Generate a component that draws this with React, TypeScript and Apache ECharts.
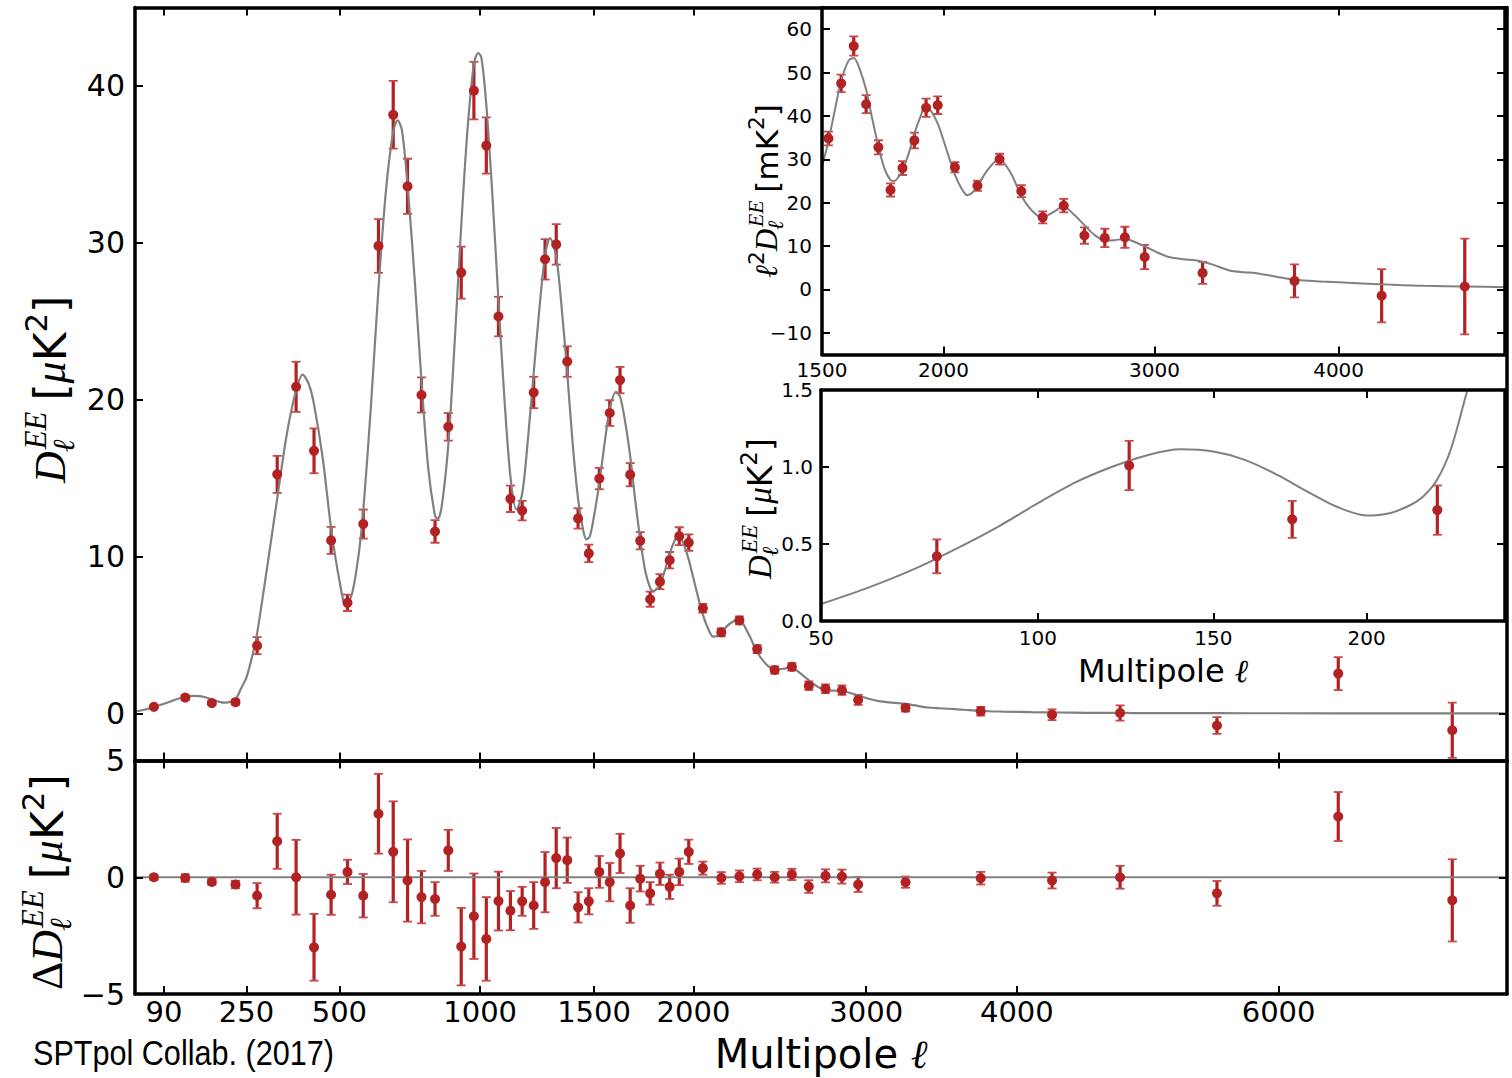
import React, { useEffect, useRef } from 'react';
import * as echarts from 'echarts';

// ---------------- data ----------------
const ell = [75, 125, 175, 225, 275, 325, 375, 425, 475, 525, 575, 625, 675, 725, 775, 825, 875, 925, 975, 1025, 1075, 1125, 1175, 1225, 1275, 1325, 1375, 1425, 1475, 1525, 1575, 1625, 1675, 1725, 1775, 1825, 1875, 1925, 1975, 2050, 2150, 2250, 2350, 2450, 2550, 2650, 2750, 2850, 2950, 3250, 3750, 4250, 4750, 5500, 6500, 7500];
const dEE = [0.42, 1.01, 0.66, 0.72, 4.32, 15.24, 20.82, 16.74, 11.03, 7.05, 12.07, 29.8, 38.16, 33.6, 20.3, 11.6, 18.27, 28.1, 39.7, 36.2, 25.3, 13.68, 12.93, 20.46, 28.95, 29.9, 22.43, 12.43, 10.2, 14.97, 19.15, 21.25, 15.22, 11.01, 7.28, 8.4, 9.77, 11.3, 10.89, 6.7, 5.17, 5.93, 4.1, 2.77, 2.97, 1.77, 1.57, 1.48, 0.86, 0.36, 0.14, -0.08, 0.03, -0.77, 2.54, -1.07];
const dErr = [0.11, 0.16, 0.12, 0.16, 0.54, 1.18, 1.6, 1.43, 0.86, 0.52, 0.93, 1.71, 2.16, 1.76, 1.12, 0.72, 0.88, 1.66, 1.83, 1.79, 1.26, 0.84, 0.62, 1.0, 1.29, 1.29, 0.97, 0.65, 0.56, 0.68, 0.82, 0.84, 0.74, 0.55, 0.48, 0.48, 0.52, 0.57, 0.52, 0.28, 0.25, 0.25, 0.25, 0.23, 0.24, 0.27, 0.28, 0.3, 0.32, 0.24, 0.27, 0.34, 0.49, 0.53, 1.05, 1.76];
const resid = [0.0, -0.03, -0.2, -0.31, -0.79, 1.54, 0.0, -3.0, -0.75, 0.23, -0.79, 2.72, 1.09, -0.14, -0.85, -0.93, 1.15, -2.97, -1.67, -2.64, -1.02, -1.43, -1.03, -1.21, -0.21, 0.82, 0.73, -1.29, -1.03, 0.23, -0.21, 1.02, -1.21, -0.06, -0.69, 0.15, -0.41, 0.23, 1.09, 0.39, -0.03, 0.04, 0.12, 0.0, 0.12, -0.4, 0.06, 0.03, -0.31, -0.21, -0.04, -0.14, 0.0, -0.69, 2.6, -0.99];

const theoryEll = [50, 60, 70, 80, 90, 100, 110, 120, 130, 140, 150, 160, 170, 180, 190, 200, 208, 215, 220, 225, 230, 236, 243, 250, 262, 275, 300, 325, 350, 375, 393, 410, 425, 450, 475, 500, 520, 540, 560, 575, 600, 625, 650, 675, 690, 705, 725, 750, 775, 800, 825, 835, 850, 875, 900, 925, 950, 975, 992, 1005, 1025, 1050, 1075, 1100, 1125, 1150, 1175, 1200, 1225, 1250, 1275, 1297, 1325, 1350, 1375, 1400, 1425, 1450, 1465, 1480, 1500, 1525, 1550, 1575, 1605, 1625, 1650, 1675, 1700, 1725, 1750, 1775, 1790, 1810, 1825, 1850, 1875, 1900, 1920, 1945, 1975, 2000, 2025, 2050, 2075, 2105, 2130, 2160, 2200, 2247, 2300, 2348, 2400, 2447, 2500, 2549, 2600, 2660, 2700, 2750, 2800, 2851, 2900, 2960, 3020, 3080, 3150, 3219, 3300, 3395, 3470, 3537, 3650, 3752, 3900, 4105, 4300, 4500, 4750, 5000, 5500, 6000, 7000, 8000];
const theoryD = [0.11, 0.22, 0.34, 0.475, 0.615, 0.765, 0.9, 1.0, 1.075, 1.115, 1.1, 1.045, 0.95, 0.84, 0.74, 0.685, 0.7, 0.75, 0.81, 0.92, 1.12, 1.5, 1.9, 2.3, 3.5, 5.1, 9.4, 13.7, 17.8, 20.6, 21.6, 21.0, 19.7, 16.3, 11.8, 8.5, 6.85, 7.7, 10.1, 12.9, 19.6, 27.1, 33.3, 37.1, 37.8, 37.2, 33.7, 27.8, 21.2, 15.6, 12.6, 12.4, 13.2, 17.1, 23.8, 31.1, 37.3, 41.4, 42.1, 41.8, 38.8, 33.0, 26.3, 20.0, 15.1, 13.0, 14.0, 17.5, 21.7, 25.8, 29.2, 30.3, 29.1, 25.8, 21.7, 17.2, 13.7, 11.6, 11.1, 11.3, 12.6, 14.7, 17.2, 19.4, 20.5, 20.2, 18.6, 16.4, 13.6, 11.1, 9.1, 8.0, 7.8, 7.95, 8.25, 9.1, 10.2, 11.0, 11.4, 10.9, 9.8, 8.6, 7.4, 6.3, 5.5, 4.9, 4.95, 5.3, 5.75, 5.96, 5.1, 3.95, 3.15, 2.78, 2.85, 2.94, 2.55, 2.03, 1.72, 1.49, 1.45, 1.43, 1.3, 1.11, 0.92, 0.78, 0.7, 0.645, 0.53, 0.38, 0.33, 0.3, 0.22, 0.157, 0.12, 0.086, 0.06, 0.041, 0.03, 0.021, 0.015, 0.011, 0.007, 0.005];

const mainTickEll = [90, 250, 500, 1000, 1500, 2000, 3000, 4000, 6000];
const mainYTicks = [0, 10, 20, 30, 40];
const residYTicks = [-5, 0, 5];
const inset1TickEll = [1500, 2000, 3000, 4000];
const inset1YTicks = [-10, 0, 10, 20, 30, 40, 50, 60];
const inset2TickEll = [50, 100, 150, 200];
const inset2YTicks = [0, 0.5, 1.0, 1.5];

// ---------------- scale & styles ----------------
const P = 0.6;
const tf = (l: number) => Math.pow(l, P);

const RED = '#b22222';
const CAP = '#c9464a';
const GRAY = '#808080';
const SANS = "'DejaVu Sans', Verdana, sans-serif";
const SERIF = "'Liberation Serif', 'DejaVu Serif', serif";

const minusFmt = (v: number) => (v < 0 ? '\u2212' + Math.abs(v) : String(v));
const ellFmt = (ticks: number[]) => (v: number) => {
  const t = ticks.find((x) => Math.abs(tf(x) - v) < 1e-3);
  return t === undefined ? '' : String(t);
};

function makeAxis(
  gridIndex: number, min: number, max: number, ticks: number[], fmt: (v: number) => string,
  position: string, showLabels: boolean, z: number, fontSize: number, margin: number, extra: any = {}
) {
  return {
    type: 'value', gridIndex, min, max, position, z,
    splitLine: { show: false },
    axisLine: { show: true, onZero: false, lineStyle: { color: '#000', width: 3.5 } },
    axisTick: { show: true, inside: true, length: 8, customValues: ticks, lineStyle: { color: '#000', width: 2 } },
    axisLabel: {
      show: showLabels, customValues: ticks, formatter: fmt, fontSize, fontFamily: SANS, color: '#000', margin,
      lineHeight: Math.round(fontSize * 0.9),
    },
    ...extra,
  };
}

function errSeries(xi: number, data: number[][], z: number) {
  return {
    type: 'custom', xAxisIndex: xi, yAxisIndex: xi, z, clip: true, silent: true,
    data, encode: { x: 0, y: [2, 3] },
    renderItem: (_p: any, api: any) => {
      const x = api.value(0);
      const a = api.coord([x, api.value(2)]);
      const b = api.coord([x, api.value(3)]);
      const w = 4.5;
      return {
        type: 'group',
        children: [
          { type: 'line', shape: { x1: a[0], y1: a[1], x2: b[0], y2: b[1] }, style: { stroke: RED, lineWidth: 3.2 } },
          { type: 'line', shape: { x1: a[0] - w, y1: a[1], x2: a[0] + w, y2: a[1] }, style: { stroke: CAP, lineWidth: 1.8 } },
          { type: 'line', shape: { x1: b[0] - w, y1: b[1], x2: b[0] + w, y2: b[1] }, style: { stroke: CAP, lineWidth: 1.8 } },
        ],
      };
    },
  };
}

type Seg = { t: string; s: number; f: string; it?: boolean; rise?: number; stack?: boolean; gap?: number; dx?: number };

function buildMath(segs: Seg[], x: number, y: number, rot: number) {
  const canvas = document.createElement('canvas');
  const ctx = canvas.getContext('2d') as CanvasRenderingContext2D;
  let cur = 0;
  let baseStart = 0;
  const children: any[] = [];
  for (const sg of segs) {
    ctx.font = `${sg.it ? 'italic ' : ''}${sg.s}px ${sg.f}`;
    const w = ctx.measureText(sg.t).width;
    const start = (sg.stack ? baseStart : cur + (sg.gap || 0)) + (sg.dx || 0);
    children.push({
      type: 'text', x: start, y: -(sg.rise || 0) - 0.3 * sg.s,
      style: {
        text: sg.t, fontSize: sg.s, fontFamily: sg.f, fontStyle: sg.it ? 'italic' : 'normal',
        fill: '#000', textAlign: 'left', textVerticalAlign: 'middle', align: 'left', verticalAlign: 'middle',
      },
    });
    const end = start + w;
    if (sg.stack) cur = Math.max(cur, end);
    else { baseStart = start; cur = end; }
  }
  return { type: 'group', x, y, rotation: rot, children, z: 20 };
}

function dLabel(S: number, prefix: Seg[], unit: string, unitItalic: boolean): Seg[] {
  const s = 0.7 * S;
  return [
    ...prefix,
    { t: 'D', s: S, f: SERIF, it: true },
    { t: 'ℓ', s, f: SERIF, it: true, rise: -0.22 * S, dx: -1 },
    { t: 'EE', s, f: SERIF, it: true, rise: 0.42 * S, stack: true, dx: 3 },
    { t: '[', s: S, f: SANS, gap: 0.25 * S },
    { t: unit, s: S, f: unitItalic ? SERIF : SANS, it: unitItalic },
    { t: 'K', s: S, f: SANS },
    { t: '2', s, f: SANS, rise: 0.42 * S },
    { t: ']', s: S, f: SANS },
  ];
}

export default function App() {
  const ref = useRef<HTMLDivElement>(null);
  useEffect(() => {
    if (!ref.current) return;
    const chart = echarts.init(ref.current, undefined, { renderer: 'svg', width: 1512, height: 1078 });

    const uMin = tf(50), uMax = tf(8000);
    const mainTicksU = mainTickEll.map(tf);
    const in1TicksU = inset1TickEll.map(tf);
    const in2TicksU = inset2TickEll.map(tf);
    const none = () => '';

    const mainPts = ell.map((l, i) => [tf(l), dEE[i]]);
    const mainErr = ell.map((l, i) => [tf(l), dEE[i], dEE[i] - dErr[i], dEE[i] + dErr[i]]);
    const resPts = ell.map((l, i) => [tf(l), resid[i]]);
    const resErr = ell.map((l, i) => [tf(l), resid[i], resid[i] - dErr[i], resid[i] + dErr[i]]);
    const theoryMain = theoryEll.map((l, i) => [tf(l), theoryD[i]]);

    const in1Idx = ell.map((l, i) => i).filter((i) => ell[i] >= 1500 && ell[i] <= 5000);
    const sq = (l: number) => (l * l) / 1e6;
    const in1Pts = in1Idx.map((i) => [tf(ell[i]), dEE[i] * sq(ell[i])]);
    const in1Err = in1Idx.map((i) => [tf(ell[i]), dEE[i] * sq(ell[i]), (dEE[i] - dErr[i]) * sq(ell[i]), (dEE[i] + dErr[i]) * sq(ell[i])]);
    const in1Theory = theoryEll.map((l, i) => i).filter((i) => theoryEll[i] >= 1400 && theoryEll[i] <= 5500)
      .map((i) => [tf(theoryEll[i]), theoryD[i] * sq(theoryEll[i])]);

    const in2Idx = ell.map((l, i) => i).filter((i) => ell[i] <= 250);
    const in2Pts = in2Idx.map((i) => [tf(ell[i]), dEE[i]]);
    const in2Err = in2Idx.map((i) => [tf(ell[i]), dEE[i], dEE[i] - dErr[i], dEE[i] + dErr[i]]);
    const in2Theory = theoryEll.map((l, i) => i).filter((i) => theoryEll[i] <= 262)
      .map((i) => [tf(theoryEll[i]), theoryD[i]]);

    const nameRich = (size: number) => ({
      lineHeight: Math.round(size * 0.95),
      rich: {
        a: { fontSize: size, fontFamily: SANS, color: '#000', lineHeight: Math.round(size * 0.95) },
        b: { fontSize: size, fontFamily: SERIF, fontStyle: 'italic', color: '#000', lineHeight: Math.round(size * 0.95) },
      },
    });

    const zIn = 12;
    const option: any = {
      animation: false,
      backgroundColor: '#fff',
      grid: [
        { left: 135, top: 7.5, width: 1372, height: 753, containLabel: false, outerBoundsMode: 'none' },
        { left: 135, top: 760.5, width: 1372, height: 233.5, containLabel: false, outerBoundsMode: 'none' },
        { left: 822, top: 7.5, width: 683, height: 347, containLabel: false, outerBoundsMode: 'none', show: true, backgroundColor: '#fff', borderWidth: 0, z: 10 },
        { left: 821, top: 390, width: 684, height: 231, containLabel: false, outerBoundsMode: 'none', show: true, backgroundColor: '#fff', borderWidth: 0, z: 10 },
      ],
      xAxis: [
        makeAxis(0, uMin, uMax, mainTicksU, none, 'bottom', false, 3, 30, 8),
        makeAxis(0, uMin, uMax, mainTicksU, none, 'top', false, 3, 30, 8),
        makeAxis(1, uMin, uMax, mainTicksU, ellFmt(mainTickEll), 'bottom', true, 3, 29, 5, {
          name: '{a|Multipole }{b|ℓ}', nameLocation: 'middle', nameGap: 41, nameTextStyle: nameRich(40),
        }),
        makeAxis(1, uMin, uMax, mainTicksU, none, 'top', false, 3, 30, 8),
        makeAxis(2, tf(1500), tf(5000), in1TicksU, ellFmt(inset1TickEll), 'bottom', true, zIn, 20, 6),
        makeAxis(2, tf(1500), tf(5000), in1TicksU, none, 'top', false, zIn, 20, 9),
        makeAxis(3, tf(50), tf(250), in2TicksU, ellFmt(inset2TickEll), 'bottom', true, zIn, 20, 8, {
          name: '{a|Multipole }{b|ℓ}', nameLocation: 'middle', nameGap: 35, nameTextStyle: nameRich(32),
        }),
        makeAxis(3, tf(50), tf(250), in2TicksU, none, 'top', false, zIn, 20, 8),
      ],
      yAxis: [
        makeAxis(0, -3, 45, mainYTicks, minusFmt, 'left', true, 3, 30, 10),
        makeAxis(0, -3, 45, mainYTicks, none, 'right', false, 3, 30, 10),
        makeAxis(1, -5, 5, residYTicks, minusFmt, 'left', true, 3, 30, 10),
        makeAxis(1, -5, 5, residYTicks, none, 'right', false, 3, 30, 10),
        makeAxis(2, -15, 65, inset1YTicks, minusFmt, 'left', true, zIn, 20, 10),
        makeAxis(2, -15, 65, inset1YTicks, none, 'right', false, zIn, 20, 10),
        makeAxis(3, 0, 1.5, inset2YTicks, (v: number) => v.toFixed(1), 'left', true, zIn, 20, 8),
        makeAxis(3, 0, 1.5, inset2YTicks, none, 'right', false, zIn, 20, 8),
      ],
      series: [
        { type: 'line', xAxisIndex: 0, yAxisIndex: 0, data: theoryMain, symbol: 'none', smooth: 0.3, silent: true, lineStyle: { color: GRAY, width: 2.2 }, z: 2 },
        errSeries(0, mainErr, 2),
        { type: 'scatter', xAxisIndex: 0, yAxisIndex: 0, data: mainPts, symbol: 'circle', symbolSize: 10, itemStyle: { color: RED, opacity: 1 }, z: 2, silent: true },

        { type: 'line', xAxisIndex: 2, yAxisIndex: 2, data: [[uMin, 0], [uMax, 0]], symbol: 'none', silent: true, lineStyle: { color: GRAY, width: 2.2 }, z: 2 },
        errSeries(2, resErr, 2),
        { type: 'scatter', xAxisIndex: 2, yAxisIndex: 2, data: resPts, symbol: 'circle', symbolSize: 10, itemStyle: { color: RED, opacity: 1 }, z: 2, silent: true },

        { type: 'line', xAxisIndex: 4, yAxisIndex: 4, data: in1Theory, symbol: 'none', smooth: 0.3, silent: true, lineStyle: { color: GRAY, width: 2 }, z: 11 },
        errSeries(4, in1Err, 11),
        { type: 'scatter', xAxisIndex: 4, yAxisIndex: 4, data: in1Pts, symbol: 'circle', symbolSize: 10, itemStyle: { color: RED, opacity: 1 }, z: 11, silent: true },

        { type: 'line', xAxisIndex: 6, yAxisIndex: 6, data: in2Theory, symbol: 'none', smooth: 0.3, silent: true, lineStyle: { color: GRAY, width: 2 }, z: 11 },
        errSeries(6, in2Err, 11),
        { type: 'scatter', xAxisIndex: 6, yAxisIndex: 6, data: in2Pts, symbol: 'circle', symbolSize: 10, itemStyle: { color: RED, opacity: 1 }, z: 11, silent: true },
      ],
      graphic: [
        buildMath(dLabel(44, [], 'μ', true), 64, 483, Math.PI / 2),
        buildMath(dLabel(44, [{ t: 'Δ', s: 44, f: SERIF }], 'μ', true), 61, 990, Math.PI / 2),
        buildMath(dLabel(31, [{ t: 'ℓ', s: 31, f: SERIF, it: true }, { t: '2', s: 21.7, f: SANS, rise: 13 }], 'm', false), 776, 278, Math.PI / 2),
        buildMath(dLabel(33, [], 'μ', true), 770, 579, Math.PI / 2),
        {
          type: 'text', x: 33, y: 1053, scaleX: 0.85, z: 20,
          style: { text: 'SPTpol Collab. (2017)', fontSize: 36, fontFamily: "'Liberation Sans', Arial, sans-serif", fill: '#000', textAlign: 'left', textVerticalAlign: 'middle', align: 'left', verticalAlign: 'middle' },
        },
      ],
    };
    chart.setOption(option);
    return () => chart.dispose();
  }, []);

  return <div ref={ref} style={{ position: 'fixed', left: 0, top: 0, width: 1512, height: 1078, background: '#fff' }} />;
}
